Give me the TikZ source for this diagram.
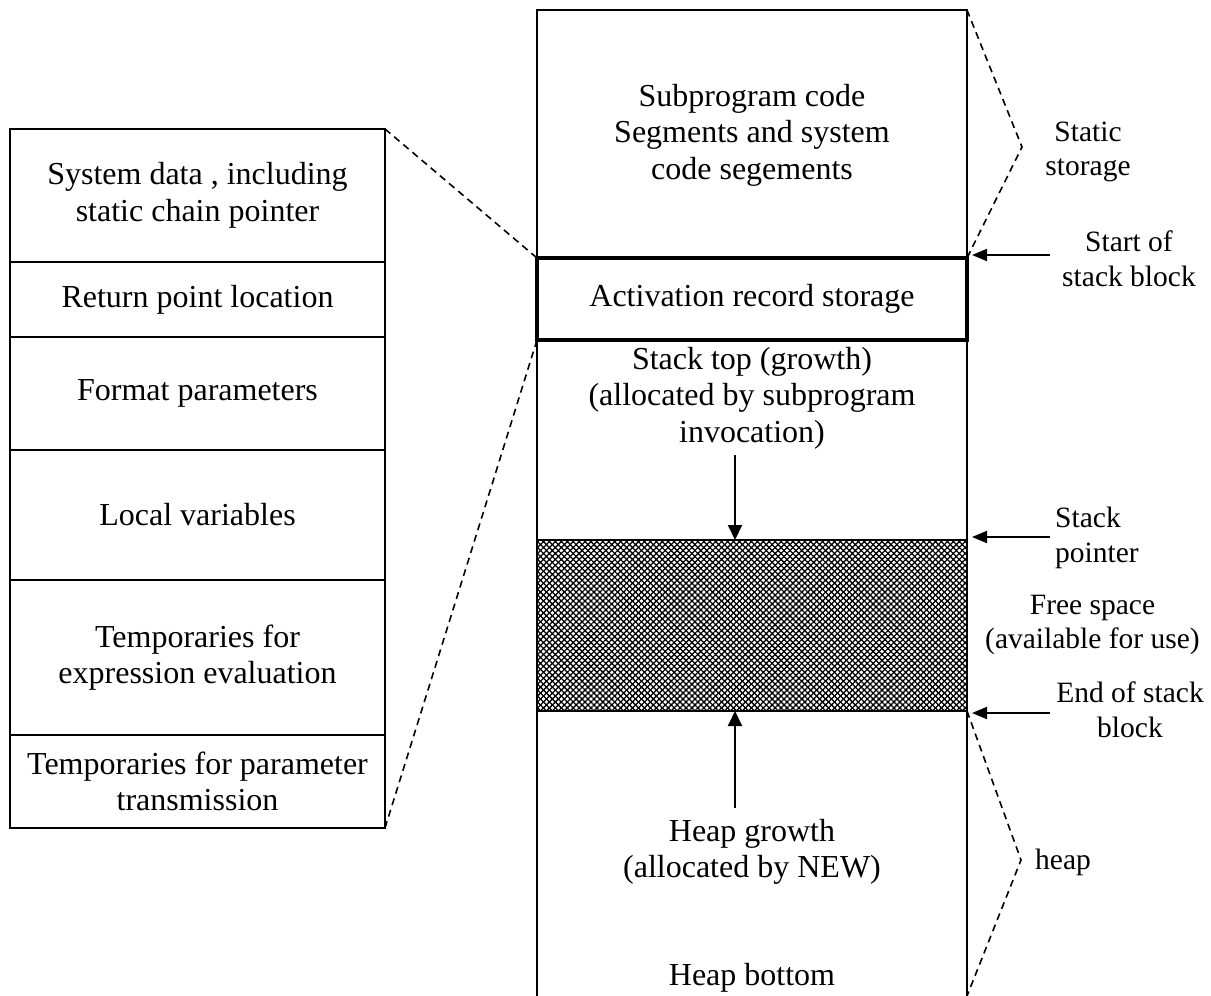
\documentclass[tikz,border=0pt]{standalone}
\usepackage{fontspec}
\setmainfont{Liberation Serif}
\usetikzlibrary{arrows.meta,patterns.meta}
\begin{document}
\begin{tikzpicture}[x=1pt,y=-1pt,
  lw/.style={line width=2pt},
  txt/.style={font=\fontsize{32}{36.5}\selectfont, align=center, inner sep=0pt},
  rtxt/.style={font=\fontsize{29.5}{34.5}\selectfont, align=center, inner sep=0pt},
  cell/.style={draw, lw, minimum width=375pt, inner sep=0pt, outer sep=0pt, txt},
  dashln/.style={line width=1.6pt, dash pattern=on 7pt off 5pt},
  arr/.style={line width=2pt, -{Triangle[length=15pt,width=14pt]}},
  sarr/.style={line width=2pt, -{Triangle[length=15pt,width=12pt]}},
  hatchA/.style={pattern={Lines[angle=45,distance=4.2pt,line width=1.3pt]}},
  hatchB/.style={pattern={Lines[angle=-45,distance=4.2pt,line width=1.3pt]}},
]
\useasboundingbox (0,0) rectangle (1211,996);

% left: activation record layout
\node[cell, minimum height=133pt] (r1) at (197.5,195.5) {System data , including\\static chain pointer};
\node[cell, minimum height=75pt]  (r2) at (197.5,299.5) {Return point location};
\node[cell, minimum height=113pt] (r3) at (197.5,393.5) {Format parameters};
\node[cell, minimum height=130pt] (r4) at (197.5,515)   {Local variables};
\node[cell, minimum height=155pt] (r5) at (197.5,657.5) {Temporaries for\\expression evaluation};
\node[cell, minimum height=93pt]  (r6) at (197.5,781.5) {Temporaries for parameter\\transmission};

% main memory column
\coordinate (ctl) at (537,10);
\coordinate (ctr) at (967,10);
\coordinate (cbl) at (537,996);
\coordinate (cbr) at (967,996);
\draw[lw] (cbl) -- (ctl) -- (ctr) -- (cbr);

\node[txt] (code) at (752,135) {Subprogram code\\Segments and system\\code segements};
\node[draw, line width=4.5pt, outer sep=0pt, minimum width=430pt, minimum height=82pt, txt] (act) at (752,299) {Activation record storage};
\node[txt] (stk) at (752,398) {Stack top (growth)\\(allocated by subprogram\\invocation)};

\node[hatchA, minimum width=430pt, minimum height=171pt, inner sep=0pt, outer sep=0pt] (free) at (752,625.5) {};
\fill[hatchB] (free.south west) rectangle (free.north east);
\draw[lw] (free.south west) rectangle (free.north east);

\coordinate (sa) at (735,455);
\draw[arr] (sa) -- (sa |- free.north);
\coordinate (ha) at (735,808);
\draw[arr] (ha) -- (ha |- free.south);

\node[txt] (hg) at (752,852) {Heap growth\\(allocated by NEW)};
\node[txt] (hb) at (752,978) {Heap bottom};

% zoom-out dashed lines
\draw[dashln] (r1.north east) -- (act.north west);
\draw[dashln] (r6.south east) -- (act.south west);

% right side annotations
\coordinate (sv) at (1022,147);
\draw[dashln] (ctr) -- (sv) -- (act.north east);
\node[rtxt] (static) at (1088,152) {Static\\storage};

\node[rtxt] (ssb) at (1129,259) {Start of\\stack block};
\coordinate (ssa) at (1050,255);
\coordinate (sst) at (972,255);
\draw[sarr] (ssa) -- (sst);

\node[rtxt, anchor=west, align=left] (sp) at (1055,538) {Stack\\pointer};
\coordinate (spa) at (1050,537);
\coordinate (spt) at (972,537);
\draw[sarr] (spa) -- (spt);

\node[rtxt] (fs) at (1092.5,625) {Free space\\(available for use)};

\node[rtxt] (esb) at (1130,710) {End of stack\\block};
\coordinate (esa) at (1050,713);
\coordinate (est) at (972,713);
\draw[sarr] (esa) -- (est);

\coordinate (hv) at (1021,860);
\draw[dashln] (free.south east) -- (hv) -- (cbr);
\node[rtxt, anchor=west] (heap) at (1035,862) {heap};
\end{tikzpicture}
\end{document}
